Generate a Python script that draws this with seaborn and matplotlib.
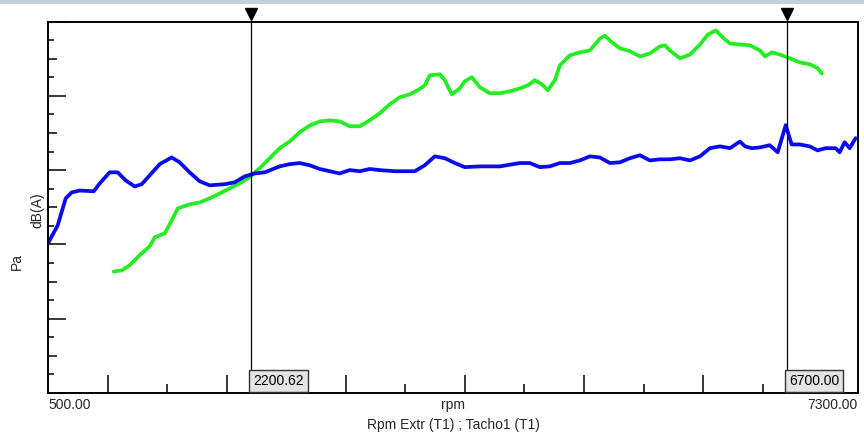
import numpy as np
import pandas as pd
import matplotlib
matplotlib.use("Agg")
import matplotlib.pyplot as plt
import matplotlib.transforms as mtransforms
from matplotlib.patches import Rectangle
import seaborn as sns

# Order-tracking levels versus engine speed
rpm_extr = [500, 581, 649, 699, 766, 884, 934, 1018, 1085, 1153, 1228, 1287, 1354,
            1438, 1538, 1605, 1689, 1773, 1857, 1983, 2067, 2151, 2235, 2319, 2445,
            2529, 2613, 2697, 2781, 2865, 2949, 3033, 3117, 3201, 3285, 3411, 3579,
            3663, 3747, 3831, 3915, 3999, 4125, 4293, 4461, 4545, 4629, 4713, 4797,
            4881, 4965, 5049, 5133, 5217, 5301, 5385, 5469, 5553, 5637, 5721, 5805,
            5889, 5973, 6057, 6141, 6225, 6309, 6351, 6407, 6475, 6559, 6626, 6693,
            6743, 6810, 6894, 6961, 7028, 7112, 7146, 7188, 7230, 7280]
level_extr = [40.3, 45.1, 52.4, 54.0, 54.5, 54.3, 56.4, 59.4, 59.4, 57.2, 55.6, 56.2,
              58.6, 61.6, 63.4, 62.1, 59.4, 57.0, 55.9, 56.2, 56.7, 58.3, 59.1, 59.4,
              61.0, 61.6, 61.9, 61.3, 60.3, 59.7, 59.1, 60.0, 59.7, 60.3, 60.0, 59.7,
              59.7, 61.3, 63.7, 63.2, 61.9, 60.8, 61.0, 61.0, 61.9, 61.9, 60.8, 61.0,
              61.9, 61.9, 62.6, 63.7, 63.4, 61.9, 62.1, 63.2, 64.0, 62.6, 62.9, 62.9,
              63.2, 62.6, 63.7, 65.9, 66.4, 65.9, 67.7, 66.4, 65.9, 66.1, 66.7, 64.8,
              72.1, 66.9, 66.9, 66.4, 65.3, 65.9, 65.9, 64.8, 67.5, 65.9, 68.6]

rpm_tacho = [1052, 1119, 1186, 1270, 1354, 1396, 1480, 1539, 1589, 1690, 1774, 1857,
             1941, 2025, 2109, 2193, 2277, 2361, 2445, 2529, 2613, 2697, 2781, 2865,
             2949, 3033, 3117, 3201, 3285, 3369, 3453, 3537, 3604, 3663, 3705, 3789,
             3831, 3890, 3957, 3999, 4058, 4125, 4209, 4293, 4377, 4461, 4528, 4587,
             4646, 4696, 4755, 4797, 4881, 4965, 5049, 5133, 5175, 5234, 5301, 5385,
             5469, 5553, 5637, 5679, 5721, 5805, 5889, 5973, 6040, 6107, 6174, 6225,
             6309, 6393, 6477, 6519, 6577, 6644, 6727, 6811, 6895, 6962, 6995]
level_tacho = [32.7, 33.0, 34.4, 37.1, 39.5, 41.9, 43.0, 46.5, 49.7, 50.8, 51.3, 52.4,
               53.7, 55.1, 56.4, 58.1, 60.5, 63.2, 65.9, 67.7, 70.2, 72.0, 73.1, 73.4,
               73.1, 71.8, 71.8, 73.4, 75.3, 77.7, 79.6, 80.4, 81.5, 82.8, 85.5, 85.8,
               84.2, 80.4, 82.0, 83.9, 85.0, 82.3, 80.7, 80.7, 81.2, 82.0, 82.8, 84.2,
               83.1, 81.5, 84.2, 88.2, 90.9, 91.7, 92.2, 95.4, 96.2, 94.4, 92.8, 92.0,
               90.6, 91.4, 93.3, 93.6, 92.2, 90.1, 91.1, 93.8, 96.5, 97.6, 95.4, 94.1,
               93.8, 93.6, 92.2, 90.6, 91.7, 91.1, 90.1, 89.0, 88.5, 87.4, 86.0]

cursor_rpm = [2200.62, 6700.00]
x_limits = [500.0, 7300.0]
y_limits = [0.0, 100.0]

sns.set_theme(style="white")
plt.rcParams["font.family"] = ["Liberation Sans", "DejaVu Sans"]

fig = plt.figure(figsize=(8.64, 4.34), dpi=100)
ax = fig.add_axes([48 / 864, 41 / 434, 810 / 864, 371.5 / 434])

sns.lineplot(x=rpm_tacho, y=level_tacho, ax=ax, color="#22ee22", linewidth=2.7,
             estimator=None, sort=False)
sns.lineplot(x=rpm_extr, y=level_extr, ax=ax, color="#0a0af0", linewidth=2.7,
             estimator=None, sort=False)

ax.set_xlim(*x_limits)
ax.set_ylim(*y_limits)

for side in ["left", "bottom", "top", "right"]:
    ax.spines[side].set_visible(True)
    ax.spines[side].set_color("black")
    ax.spines[side].set_linewidth(1.4)

# x ticks: long at every 1000 rpm, short halfway
ax.set_xticks(np.arange(1000, 7001, 1000))
ax.set_xticks(np.arange(1500, 7000, 1000), minor=True)
ax.tick_params(axis="x", which="major", direction="in", length=13, width=1.1,
               color="black", bottom=True, labelbottom=False)
ax.tick_params(axis="x", which="minor", direction="in", length=6.5, width=1.1,
               color="black", bottom=True)

# y ticks: long every 20, medium every 10, short every 5
ax.set_yticks(np.arange(0, 101, 10))
ax.set_yticks(np.arange(5, 100, 10), minor=True)
ax.tick_params(axis="y", which="major", direction="in", length=6.8, width=1.1,
               color="black", left=True, labelleft=False)
ax.tick_params(axis="y", which="minor", direction="in", length=4.3, width=1.1,
               color="black", left=True)
for val, tick in zip(np.arange(0, 101, 10), ax.yaxis.get_major_ticks()):
    if val % 20 == 0:
        tick.tick1line.set_markersize(13)

ax.set_xlabel("")
ax.set_ylabel("")

# Cursors with markers above the frame and value boxes sitting on the axis
trans = mtransforms.blended_transform_factory(ax.transData, ax.transAxes)
label_fs = 10
box_pad = 0.3
shift = mtransforms.ScaledTranslation(box_pad * label_fs / 72 - 1.2 / 72,
                                      box_pad * label_fs / 72 + 0.7 / 72,
                                      fig.dpi_scale_trans)
for c in cursor_rpm:
    ax.axvline(c, color="black", linewidth=0.9, zorder=5)
    ax.plot([c], [1.02], marker="v", color="black", markersize=8.5,
            transform=trans, clip_on=False, zorder=6)
    ax.text(c, 0.0, f"{c:.2f}", transform=trans + shift, ha="left", va="bottom",
            fontsize=label_fs, color="black", zorder=10, clip_on=False,
            bbox=dict(boxstyle=f"square,pad={box_pad}", facecolor="#e4e4e4",
                      edgecolor="#333333", linewidth=1.0))

# Axis texts
fs = 10
fig.text(48 / 864, 1 - 405 / 434, f"{x_limits[0]:.2f}", ha="left", va="center",
         fontsize=fs)
fig.text(858 / 864, 1 - 405 / 434, f"{x_limits[1]:.2f}", ha="right", va="center",
         fontsize=fs)
fig.text(453 / 864, 1 - 405 / 434, "rpm", ha="center", va="center", fontsize=fs)
fig.text(453 / 864, 1 - 425 / 434, "Rpm Extr (T1) ; Tacho1 (T1)", ha="center",
         va="center", fontsize=fs)
fig.text(17 / 864, 1 - 262 / 434, "Pa", rotation=90, ha="center", va="center",
         fontsize=fs)
fig.text(37 / 864, 1 - 210 / 434, "dB(A)", rotation=90, ha="center", va="center",
         fontsize=fs)

# Header strip
fig.patches.append(Rectangle((0, 1 - 4 / 434), 1, 4 / 434, transform=fig.transFigure,
                             facecolor="#c3cfd9", edgecolor="none", zorder=0))

fig.savefig("out.png", dpi=100)
